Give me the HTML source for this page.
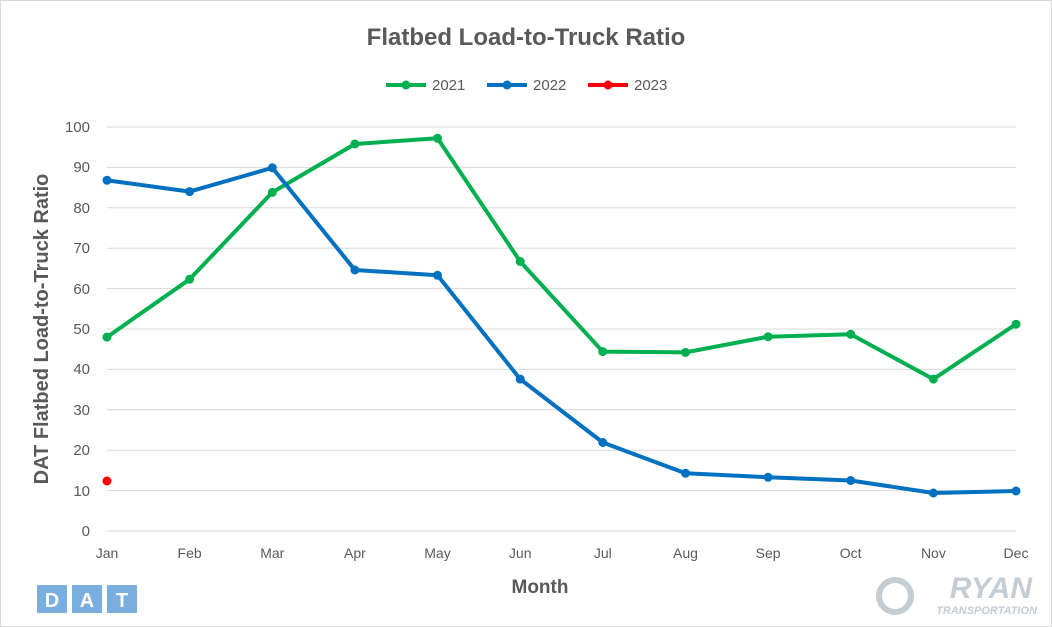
<!DOCTYPE html>
<html><head><style>body{margin:0;background:#fff}svg{display:block;font-family:"Liberation Sans",Arial,sans-serif}</style></head><body>
<svg width="1052" height="627" viewBox="0 0 1052 627" xmlns="http://www.w3.org/2000/svg">
<rect x="0.5" y="0.5" width="1051" height="626" fill="#fff" stroke="#d9d9d9"/>
<text x="526" y="45" text-anchor="middle" font-size="24" font-weight="bold" fill="#595959">Flatbed Load-to-Truck Ratio</text>
<g font-size="15" fill="#595959">
<line x1="386" y1="85" x2="426" y2="85" stroke="#00b050" stroke-width="4"/><circle cx="406" cy="85" r="4.5" fill="#00b050"/><text x="432" y="90">2021</text>
<line x1="487" y1="85" x2="527" y2="85" stroke="#0070c0" stroke-width="4"/><circle cx="507" cy="85" r="4.5" fill="#0070c0"/><text x="533" y="90">2022</text>
<line x1="588" y1="85" x2="628" y2="85" stroke="#ff0000" stroke-width="4"/><circle cx="608" cy="85" r="4.5" fill="#ff0000"/><text x="634" y="90">2023</text>
</g>
<g stroke="#d9d9d9" stroke-width="1">
<line x1="107" y1="127" x2="1016" y2="127"/><line x1="107" y1="167.4" x2="1016" y2="167.4"/><line x1="107" y1="207.8" x2="1016" y2="207.8"/><line x1="107" y1="248.2" x2="1016" y2="248.2"/><line x1="107" y1="288.6" x2="1016" y2="288.6"/><line x1="107" y1="329" x2="1016" y2="329"/><line x1="107" y1="369.4" x2="1016" y2="369.4"/><line x1="107" y1="409.8" x2="1016" y2="409.8"/><line x1="107" y1="450.2" x2="1016" y2="450.2"/><line x1="107" y1="490.6" x2="1016" y2="490.6"/><line x1="107" y1="531" x2="1016" y2="531"/>
</g>
<g font-size="15" fill="#595959" text-anchor="end">
<text x="90" y="132">100</text><text x="90" y="172">90</text><text x="90" y="213">80</text><text x="90" y="253">70</text><text x="90" y="294">60</text><text x="90" y="334">50</text><text x="90" y="374">40</text><text x="90" y="415">30</text><text x="90" y="455">20</text><text x="90" y="496">10</text><text x="90" y="536">0</text>
</g>
<g font-size="14" fill="#595959" text-anchor="middle">
<text x="107" y="558">Jan</text><text x="189.6" y="558">Feb</text><text x="272.3" y="558">Mar</text><text x="354.9" y="558">Apr</text><text x="437.5" y="558">May</text><text x="520.2" y="558">Jun</text><text x="602.8" y="558">Jul</text><text x="685.5" y="558">Aug</text><text x="768.1" y="558">Sep</text><text x="850.7" y="558">Oct</text><text x="933.4" y="558">Nov</text><text x="1016" y="558">Dec</text>
</g>
<text x="540" y="593" text-anchor="middle" font-size="19" font-weight="bold" fill="#595959">Month</text>
<text transform="translate(48,329) rotate(-90)" text-anchor="middle" font-size="20" font-weight="bold" fill="#595959">DAT Flatbed Load-to-Truck Ratio</text>
<g fill="#00b050">
<polyline fill="none" stroke="#00b050" stroke-width="4" stroke-linejoin="round" points="107,337.1 189.6,279.3 272.3,192.4 354.9,143.97 437.5,138.3 520.2,261.5 602.8,351.6 685.5,352.4 768.1,336.7 850.7,334.3 933.4,379.1 1016,324.2"/>
<circle cx="107" cy="337.1" r="4.5"/><circle cx="189.6" cy="279.3" r="4.5"/><circle cx="272.3" cy="192.4" r="4.5"/><circle cx="354.9" cy="143.97" r="4.5"/><circle cx="437.5" cy="138.3" r="4.5"/><circle cx="520.2" cy="261.5" r="4.5"/><circle cx="602.8" cy="351.6" r="4.5"/><circle cx="685.5" cy="352.4" r="4.5"/><circle cx="768.1" cy="336.7" r="4.5"/><circle cx="850.7" cy="334.3" r="4.5"/><circle cx="933.4" cy="379.1" r="4.5"/><circle cx="1016" cy="324.2" r="4.5"/>
</g>
<g fill="#0070c0">
<polyline fill="none" stroke="#0070c0" stroke-width="4" stroke-linejoin="round" points="107,180.3 189.6,191.6 272.3,167.8 354.9,270 437.5,275.3 520.2,379.1 602.8,442.5 685.5,473.2 768.1,477.3 850.7,480.5 933.4,493 1016,491"/>
<circle cx="107" cy="180.3" r="4.5"/><circle cx="189.6" cy="191.6" r="4.5"/><circle cx="272.3" cy="167.8" r="4.5"/><circle cx="354.9" cy="270" r="4.5"/><circle cx="437.5" cy="275.3" r="4.5"/><circle cx="520.2" cy="379.1" r="4.5"/><circle cx="602.8" cy="442.5" r="4.5"/><circle cx="685.5" cy="473.2" r="4.5"/><circle cx="768.1" cy="477.3" r="4.5"/><circle cx="850.7" cy="480.5" r="4.5"/><circle cx="933.4" cy="493" r="4.5"/><circle cx="1016" cy="491" r="4.5"/>
</g>
<circle cx="107" cy="481" r="4.5" fill="#ff0000"/>
<g font-size="20" font-weight="bold" fill="#fff" text-anchor="middle">
<rect x="37" y="585" width="30" height="28" fill="#7aade0"/><text x="52" y="607">D</text>
<rect x="72" y="585" width="30" height="28" fill="#7aade0"/><text x="87" y="607">A</text>
<rect x="107" y="585" width="30" height="28" fill="#7aade0"/><text x="122" y="607">T</text>
</g>
<circle cx="895" cy="596" r="16" fill="none" stroke="#c4ccd4" stroke-width="6"/>
<text x="1032" y="598" text-anchor="end" font-size="30" font-weight="bold" font-style="italic" fill="#c4ccd4">RYAN</text>
<text x="1037" y="614" text-anchor="end" font-size="11" font-weight="bold" font-style="italic" fill="#c4ccd4">TRANSPORTATION</text>
</svg>
</body></html>
